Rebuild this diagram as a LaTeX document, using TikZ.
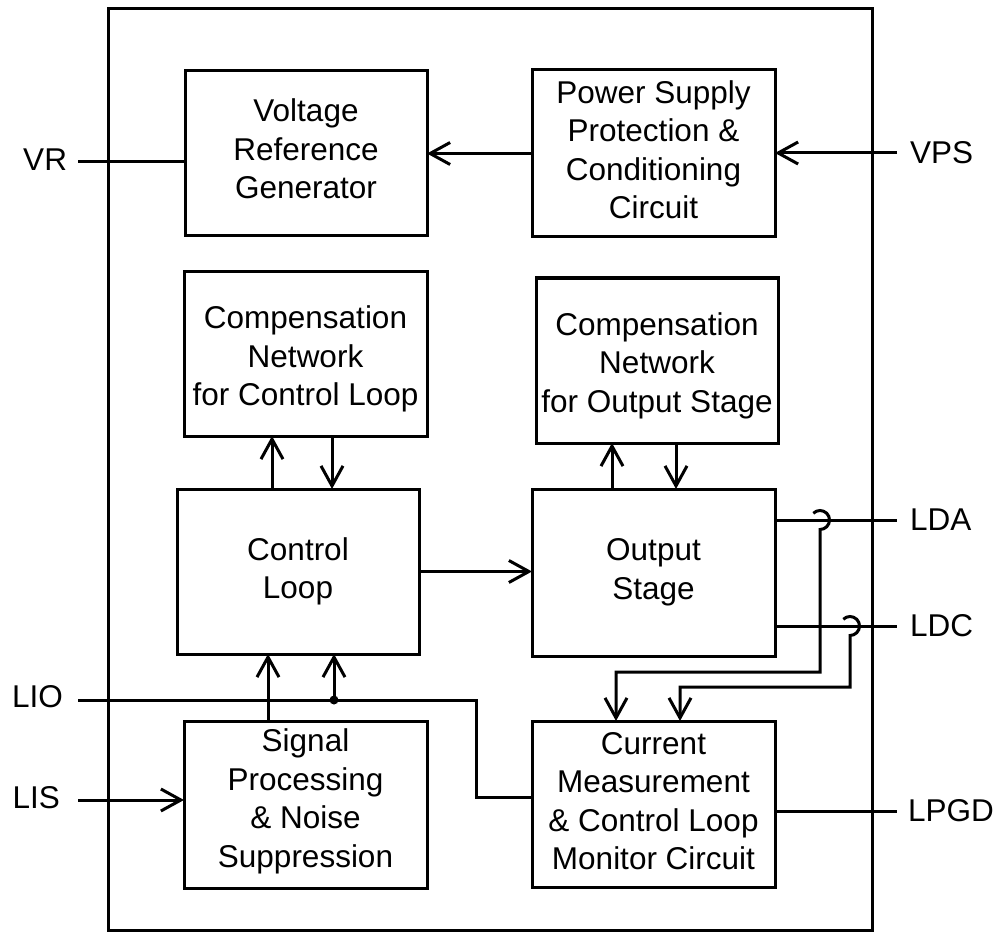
\documentclass[tikz,border=0pt]{standalone}
\usepackage{fontspec}
\setmainfont{Liberation Sans}
\usetikzlibrary{arrows.meta}
\begin{document}
\begin{tikzpicture}[x=1pt,y=-1pt,
  line width=3pt,
  font=\fontsize{31.5}{38.5}\selectfont,
  blk/.style={draw, line width=3pt, inner sep=0pt, outer sep=0pt},
  btxt/.style={align=center, inner sep=0pt, yshift=#1},
  pinlbl/.style={inner sep=0pt, outer sep=0pt},
  arr/.style={-{Straight Barb[length=20pt,width=22pt]}}]
\useasboundingbox (0,0) rectangle (998,933);

% outer frame
\draw (108,9) rectangle (872,930);

% blocks
\node[blk, minimum width=242pt, minimum height=165pt,
  label={[btxt=4pt]center:{Voltage\\Reference\\Generator}}] (VRG) at (306,153) {};
\node[blk, minimum width=243pt, minimum height=167pt,
  label={[btxt=4pt]center:{Power Supply\\Protection \&\\Conditioning\\Circuit}}] (PSP) at (653.5,153.5) {};
\node[blk, minimum width=243pt, minimum height=164pt,
  label={[btxt=-5pt]center:{Compensation\\Network\\for Control Loop}}] (CNCL) at (305.5,354) {};
\node[blk, minimum width=242pt, minimum height=165pt,
  label={[btxt=-5pt]center:{Compensation\\Network\\for Output Stage}}] (CNOS) at (657,360.5) {};
\node[blk, minimum width=242pt, minimum height=165pt,
  label={[btxt=0pt]center:{Control\\Loop}}] (CL) at (298,571.5) {};
\node[blk, minimum width=243pt, minimum height=167pt,
  label={[btxt=0pt]center:{Output\\Stage}}] (OS) at (653.5,572.5) {};
\node[blk, minimum width=243pt, minimum height=167pt,
  label={[btxt=3pt]center:{Signal\\Processing\\\& Noise\\Suppression}}] (SP) at (305.5,804.5) {};
\node[blk, minimum width=243pt, minimum height=166pt,
  label={[btxt=3pt]center:{Current\\Measurement\\\& Control Loop\\Monitor Circuit}}] (CM) at (653.5,804) {};

% pin labels
\node[pinlbl, anchor=east] (lVR) at (67,160) {VR};
\node[pinlbl, anchor=west] (lVPS) at (910,153) {VPS};
\node[pinlbl, anchor=west] (lLDA) at (910,520) {LDA};
\node[pinlbl, anchor=west] (lLDC) at (910,626) {LDC};
\node[pinlbl, anchor=east] (lLIO) at (63,697) {LIO};
\node[pinlbl, anchor=east] (lLIS) at (60,798) {LIS};
\node[pinlbl, anchor=west] (lLPGD) at (908,811) {LPGD};

% pin line ends and routing points
\coordinate (vr) at (78,162);
\coordinate (vps) at (897,153);
\coordinate (lda) at (897,520);
\coordinate (ldc) at (897,626);
\coordinate (lio) at (78,700);
\coordinate (lis) at (78,800);
\coordinate (lpgd) at (897,811);
\coordinate (hopA) at (820,520);
\coordinate (hopC) at (850,626);
\coordinate (bendA) at (820,672);
\coordinate (bendC) at (850,687);
\coordinate (bendL) at (476,797);
\coordinate (junc) at (334,700);

% top row
\draw (vr) -- (vr -| VRG.west);
\draw[arr] (vps) -- (vps -| PSP.east);
\draw[arr] (PSP.west) -- (PSP.west -| VRG.east);

% control loop <-> compensation
\draw[arr] ([xshift=-26pt]CL.north) -- ([xshift=-26pt]CL.north |- CNCL.south);
\draw[arr] ([xshift=34pt]CL.north |- CNCL.south) -- ([xshift=34pt]CL.north);

% output stage <-> compensation
\draw[arr] ([xshift=-41.5pt]OS.north) -- ([xshift=-41.5pt]OS.north |- CNOS.south);
\draw[arr] ([xshift=22.5pt]OS.north |- CNOS.south) -- ([xshift=22.5pt]OS.north);

% control loop -> output stage
\draw[arr] (CL.east) -- (CL.east -| OS.west);

% LDA / LDC
\draw (lda -| OS.east) -- (lda);
\draw (ldc -| OS.east) -- (ldc);
\draw[arr] ([shift={(225:9.5)}]hopA) arc[start angle=225, end angle=450, radius=9.5]
  -- (bendA) -- ([xshift=-37.5pt]CM.north |- bendA) -- ([xshift=-37.5pt]CM.north);
\draw[arr] ([shift={(225:9.5)}]hopC) arc[start angle=225, end angle=450, radius=9.5]
  -- (bendC) -- ([xshift=26.5pt]CM.north |- bendC) -- ([xshift=26.5pt]CM.north);

% LIO
\draw (lio) -| (bendL) -- (bendL -| CM.west);
\fill (junc) circle[radius=4.5];
\draw[arr] (junc) -- (junc |- CL.south);

% signal processing -> control loop
\draw[arr] ([xshift=-37.5pt]SP.north) -- ([xshift=-37.5pt]SP.north |- CL.south);

% LIS
\draw[arr] (lis) -- (lis -| SP.west);

% LPGD
\draw (lpgd -| CM.east) -- (lpgd);
\end{tikzpicture}
\end{document}
